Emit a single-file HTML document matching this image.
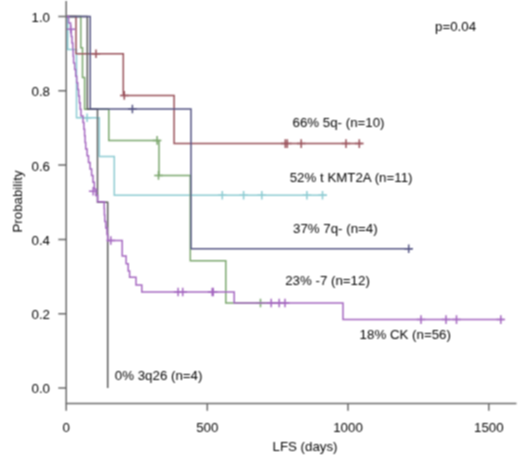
<!DOCTYPE html>
<html><head><meta charset="utf-8"><style>
html,body{margin:0;padding:0;background:#fff;width:520px;height:462px;overflow:hidden}
svg{display:block}
</style></head><body>
<svg width="520" height="462" viewBox="0 0 520 462">
<defs><filter id="b" x="0" y="0" width="520" height="462" filterUnits="userSpaceOnUse"><feConvolveMatrix order="3" kernelMatrix="1 2 1 2 4 2 1 2 1" divisor="16" edgeMode="none"/></filter></defs>
<rect width="520" height="462" fill="#fff"/>
<g filter="url(#b)">
<g stroke-linecap="butt" stroke-linejoin="miter">
<path d="M66.5,16.5 H67.7 V49.5 H76.5 V117.8 H99.3 V156.5 H114.3 V195.3 H327" stroke="#8ccbd2" stroke-width="1.5" fill="none"/>
<path d="M87.1,113.5 V122.1 M82.8,117.8 H91.39999999999999 M222.3,191.0 V199.60000000000002 M218.0,195.3 H226.60000000000002 M243.6,191.0 V199.60000000000002 M239.29999999999998,195.3 H247.9 M261.8,191.0 V199.60000000000002 M257.5,195.3 H266.1 M306.9,191.0 V199.60000000000002 M302.59999999999997,195.3 H311.2 M322.5,191.0 V199.60000000000002 M318.2,195.3 H326.8" stroke="#8ccbd2" stroke-width="1.5" fill="none"/>

<path d="M66.5,16.5 H80.8 V47.7 H82.5 V77.6 H84.6 V109.2 H108.8 V140.4 H159 V175.4 H190.3 V260.8 H225.8 V303 H285" stroke="#7aa66c" stroke-width="1.5" fill="none"/>
<path d="M157.1,136.1 V144.70000000000002 M152.79999999999998,140.4 H161.4 M158.5,171.1 V179.70000000000002 M154.2,175.4 H162.8 M260.5,298.7 V307.3 M256.2,303 H264.8" stroke="#7aa66c" stroke-width="1.5" fill="none"/>

<path d="M66.5,16.5 H76 V53.7 H123.3 V95.4 H174.1 V143.6 H362.5" stroke="#985058" stroke-width="1.5" fill="none"/>
<path d="M96,49.400000000000006 V58.0 M91.7,53.7 H100.3 M124.3,91.10000000000001 V99.7 M120.0,95.4 H128.6 M285.3,139.29999999999998 V147.9 M281.0,143.6 H289.6 M287.3,139.29999999999998 V147.9 M283.0,143.6 H291.6 M301.2,139.29999999999998 V147.9 M296.9,143.6 H305.5 M346,139.29999999999998 V147.9 M341.7,143.6 H350.3 M359.3,139.29999999999998 V147.9 M355.0,143.6 H363.6" stroke="#985058" stroke-width="1.5" fill="none"/>

<path d="M66.5,16.5 H87.3 V109.2 H97.5 V202.2 H107.7 V388" stroke="#5a5a5a" stroke-width="1.5" fill="none"/>

<path d="M66.5,16.5 H90.2 V109 H191 V248.7 H412" stroke="#525282" stroke-width="1.5" fill="none"/>
<path d="M132.4,104.7 V113.3 M128.1,109 H136.70000000000002 M408.7,244.39999999999998 V253.0 M404.4,248.7 H413.0" stroke="#525282" stroke-width="1.5" fill="none"/>

<path d="M66.5,16.5 H68.6 V23.1 H70.6 V29.8 H71.3 V36.4 H72.0 V43.0 H72.8 V49.7 H73.2 V56.3 H73.6 V62.9 H74.7 V69.5 H75.7 V76.2 H76.7 V82.8 H77.7 V89.4 H78.6 V96.1 H79.4 V102.7 H80.2 V109.3 H81.0 V115.9 H83.0 V122.6 H83.9 V129.2 H84.6 V135.8 H85.1 V142.5 H85.7 V149.1 H87.1 V155.7 H88.5 V162.4 H90.1 V169 H91.6 V175.6 H93 V182.2 H94.3 V188.9 H95.8 V195.5 H97.6 V201.8 H104.2 V208.5 H104.4 V215 H104.8 V221.5 H105.8 V228 H107 V234.5 H107.7 V240.5 H122.2 V256.1 H126.1 V263.8 H128.2 V270.9 H129.6 V277.2 H136 V285 H141.8 V292 H234.2 V303 H343 V319.6 H503.7" stroke="#a466c0" stroke-width="1.5" fill="none"/>
<path d="M70.7,25.0 V33.6 M66.4,29.3 H75.0 M93.2,187.0 V195.60000000000002 M88.9,191.3 H97.5 M110.8,236.2 V244.8 M106.5,240.5 H115.1 M178.1,287.7 V296.3 M173.79999999999998,292 H182.4 M182.7,287.7 V296.3 M178.39999999999998,292 H187.0 M212.2,287.7 V296.3 M207.89999999999998,292 H216.5 M213.2,287.7 V296.3 M208.89999999999998,292 H217.5 M271.2,298.7 V307.3 M266.9,303 H275.5 M279.2,298.7 V307.3 M274.9,303 H283.5 M285,298.7 V307.3 M280.7,303 H289.3 M421,315.3 V323.90000000000003 M416.7,319.6 H425.3 M446,315.3 V323.90000000000003 M441.7,319.6 H450.3 M456.5,315.3 V323.90000000000003 M452.2,319.6 H460.8 M500.8,315.3 V323.90000000000003 M496.5,319.6 H505.1" stroke="#a466c0" stroke-width="1.5" fill="none"/>

</g>
<path d="M66.2,1 V403.4 H516.5" stroke="#6a6a6a" stroke-width="1.5" fill="none"/>
<path d="M58.3,388.0 H66.2 M58.3,313.7 H66.2 M58.3,239.4 H66.2 M58.3,165.1 H66.2 M58.3,90.8 H66.2 M58.3,16.5 H66.2" stroke="#6a6a6a" stroke-width="1.5"/>
<path d="M66.2,403.4 V410.8 M207.3,403.4 V410.8 M348,403.4 V410.8 M488.8,403.4 V410.8" stroke="#6a6a6a" stroke-width="1.5"/>
<g font-family="Liberation Sans, sans-serif" font-size="13.3" fill="#000" stroke="#000" stroke-width="0">
<text x="50" y="393.4" text-anchor="end">0.0</text>
<text x="50" y="319.1" text-anchor="end">0.2</text>
<text x="50" y="244.8" text-anchor="end">0.4</text>
<text x="50" y="170.5" text-anchor="end">0.6</text>
<text x="50" y="96.2" text-anchor="end">0.8</text>
<text x="50" y="21.9" text-anchor="end">1.0</text>
<text x="66.2" y="432" text-anchor="middle">0</text>
<text x="207.3" y="432" text-anchor="middle">500</text>
<text x="348" y="432" text-anchor="middle">1000</text>
<text x="488.8" y="432" text-anchor="middle">1500</text>
<text x="272.5" y="451.2">LFS (days)</text>
<text transform="translate(22.3,201.5) rotate(-90)" text-anchor="middle">Probability</text>
<text x="435" y="30.8">p=0.04</text>
<text x="292.5" y="126.9">66% 5q- (n=10)</text>
<text x="289.7" y="182.3">52% t KMT2A (n=11)</text>
<text x="293" y="232.9">37% 7q- (n=4)</text>
<text x="285.2" y="285.4">23% -7 (n=12)</text>
<text x="359.6" y="339.3">18% CK (n=56)</text>
<text x="114.8" y="380.3">0% 3q26 (n=4)</text>
</g></g></svg>
</body></html>
